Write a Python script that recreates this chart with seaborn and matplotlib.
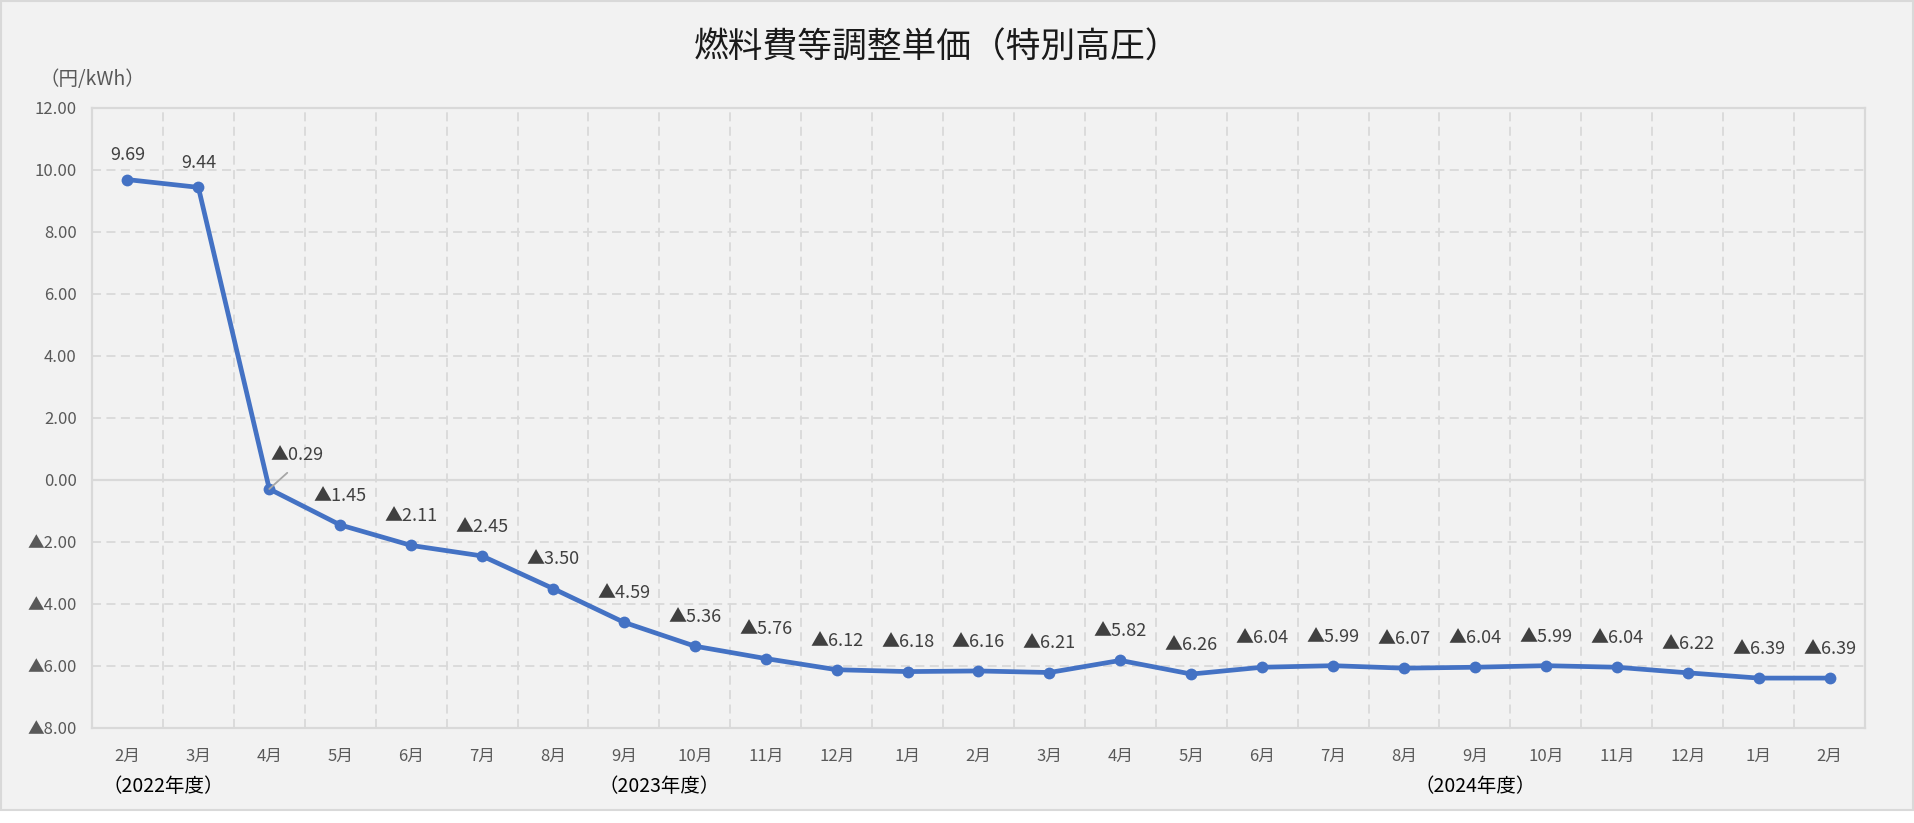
import numpy as np
import pandas as pd
import matplotlib
matplotlib.use("Agg")
import matplotlib.pyplot as plt
from matplotlib.patches import Rectangle
from matplotlib.ticker import FuncFormatter
import seaborn as sns

months = ["2月", "3月", "4月", "5月", "6月", "7月", "8月", "9月", "10月", "11月", "12月", "1月", "2月",
          "3月", "4月", "5月", "6月", "7月", "8月", "9月", "10月", "11月", "12月", "1月", "2月"]
values = [9.69, 9.44, -0.29, -1.45, -2.11, -2.45, -3.50, -4.59, -5.36, -5.76, -6.12, -6.18, -6.16,
          -6.21, -5.82, -6.26, -6.04, -5.99, -6.07, -6.04, -5.99, -6.04, -6.22, -6.39, -6.39]
fiscal_years = ["（2022年度）", "（2023年度）", "（2024年度）"]
fy_first = [0, 2, 14]
fy_last = [1, 13, 24]
yticks = [-8, -6, -4, -2, 0, 2, 4, 6, 8, 10, 12]
title = "燃料費等調整単価（特別高圧）"
unit = "（円/kWh）"

sns.set_style("white")
plt.rcParams["font.family"] = ["Noto Sans CJK JP", "DejaVu Sans"]

df = pd.DataFrame({"idx": np.arange(len(values)), "value": values})

W, H = 1915, 823
fig = plt.figure(figsize=(W / 100, H / 100), dpi=100)
fig.patch.set_facecolor("white")
fig.patches.append(Rectangle((0.5 / W, 13 / H), (W - 2) / W, (H - 14) / H, transform=fig.transFigure,
                             facecolor="#f2f2f2", edgecolor="#d9d9d9", linewidth=1.5, zorder=-10))

ax = fig.add_axes([92 / W, (H - 728) / H, (1865 - 92) / W, (728 - 108) / H])
ax.set_facecolor("#f2f2f2")

grid_col = "#d9d9d9"
ax.set_xlim(-0.5, len(values) - 0.5)
ax.set_ylim(min(yticks), max(yticks))
ax.set_yticks(yticks)
ax.set_xticks(np.arange(len(values)))
ax.set_xticklabels(months)
ax.set_xticks(np.arange(-0.5, len(values), 1), minor=True)
ax.grid(which="major", axis="y", color=grid_col, linewidth=1.3, linestyle=(0, (5, 3)), zorder=0)
ax.grid(which="minor", axis="x", color=grid_col, linewidth=1.3, linestyle=(0, (5, 3)), zorder=0)
ax.axhline(0, color=grid_col, linewidth=1.6, zorder=1)
for s in ax.spines.values():
    s.set_color(grid_col)
    s.set_linewidth(1.6)

ax.tick_params(axis="both", which="both", length=0)
ax.tick_params(axis="x", labelsize=12, labelcolor="#595959", pad=14)
ax.tick_params(axis="y", labelsize=12, labelcolor="#595959", pad=11)
ax.yaxis.set_major_formatter(FuncFormatter(lambda v, p: ("▲%.2f" % -v) if v < 0 else "%.2f" % v))

sns.lineplot(data=df, x="idx", y="value", ax=ax, color="#4472C4", linewidth=3.4,
             marker="o", markersize=8.5, markeredgewidth=0, zorder=5)
ax.set_xlabel("")
ax.set_ylabel("")

def fmt(v):
    return ("▲%.2f" % -v) if v < 0 else "%.2f" % v

for i, v in enumerate(values):
    if i == 2:
        ax.annotate(fmt(v), xy=(i, v), xytext=(20, 24.5), textcoords="offset points",
                    ha="center", va="center", fontsize=13, color="#404040",
                    arrowprops=dict(arrowstyle="-", color="#a6a6a6", lw=1.3,
                                    shrinkA=6, shrinkB=0, relpos=(0.5, 0)), zorder=6)
    else:
        dy = 21 if v < 0 else 17.5
        ax.annotate(fmt(v), xy=(i, v), xytext=(0, dy), textcoords="offset points",
                    ha="center", va="center", fontsize=13, color="#404040", zorder=6)

for lab, a, b in zip(fiscal_years, fy_first, fy_last):
    ax.annotate(lab, xy=((a + b) / 2, 0), xycoords=("data", "axes fraction"),
                xytext=(0, -42), textcoords="offset points", ha="center", va="center",
                fontsize=14, color="#000000")

fig.text(937 / W, 1 - 48 / H, title, ha="center", va="center", fontsize=25, color="#1a1a1a")
fig.text(92 / W, 1 - 80 / H, unit, ha="center", va="center", fontsize=14, color="#595959")

fig.savefig("out.png", dpi=100, facecolor="white")
